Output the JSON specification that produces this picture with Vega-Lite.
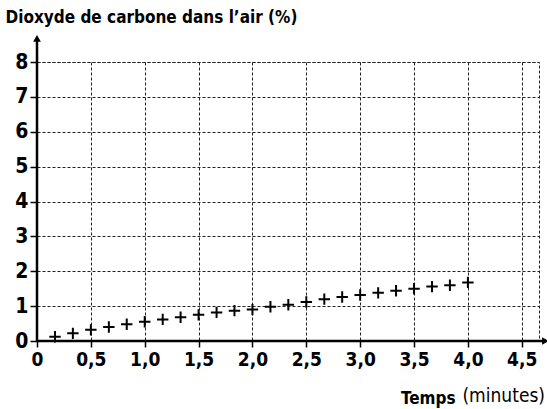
{
  "$schema": "https://vega.github.io/schema/vega-lite/v6.json",
  "autosize": "none",
  "width": 502,
  "height": 279,
  "padding": {"left": 37, "top": 62, "right": 8, "bottom": 68},
  "background": "white",
  "title": {
    "text": "(minutes)",
    "orient": "bottom", "anchor": "end", "frame": "group",
    "fontSize": 19, "fontWeight": "normal", "color": "black",
    "baseline": "alphabetic", "offset": 0, "dy": -4, "dx": 6,
    "font": "Liberation Sans Narrow, DejaVu Sans Condensed, sans-serif"
  },
  "config": {
    "font": "Liberation Sans Narrow, DejaVu Sans Condensed, sans-serif",
    "view": {"stroke": "#222", "strokeDash": [3, 2], "strokeWidth": 1}
  },
  "datasets": {
    "co2": [
      {"t": 0.167, "co2": 0.12},
      {"t": 0.333, "co2": 0.22},
      {"t": 0.5, "co2": 0.32},
      {"t": 0.667, "co2": 0.4},
      {"t": 0.833, "co2": 0.48},
      {"t": 1.0, "co2": 0.55},
      {"t": 1.167, "co2": 0.62},
      {"t": 1.333, "co2": 0.68},
      {"t": 1.5, "co2": 0.75},
      {"t": 1.667, "co2": 0.82},
      {"t": 1.833, "co2": 0.87},
      {"t": 2.0, "co2": 0.9},
      {"t": 2.167, "co2": 0.98},
      {"t": 2.333, "co2": 1.04},
      {"t": 2.5, "co2": 1.12},
      {"t": 2.667, "co2": 1.2},
      {"t": 2.833, "co2": 1.26},
      {"t": 3.0, "co2": 1.32},
      {"t": 3.167, "co2": 1.38},
      {"t": 3.333, "co2": 1.44},
      {"t": 3.5, "co2": 1.5},
      {"t": 3.667, "co2": 1.56},
      {"t": 3.833, "co2": 1.6},
      {"t": 4.0, "co2": 1.68}
    ],
    "axes": [
      {"x": 0, "y": 0, "x2": 4.72, "y2": 0, "shape": "triangle-right"},
      {"x": 0, "y": 0, "x2": 0, "y2": 8.68, "shape": "triangle-up"}
    ]
  },
  "layer": [
    {
      "data": {"name": "co2"},
      "mark": {"type": "point", "shape": "M-1,0H1M0,-1V1", "size": 130, "filled": false, "stroke": "black", "strokeWidth": 2, "opacity": 1},
      "encoding": {
        "x": {
          "field": "t", "type": "quantitative",
          "scale": {"domain": [0, 4.66], "nice": false, "zero": false},
          "axis": {
            "values": [0, 0.5, 1, 1.5, 2, 2.5, 3, 3.5, 4, 4.5],
            "labelExpr": "datum.value == 0 ? '0' : replace(format(datum.value, '.1f'), '.', ',')",
            "labelFontSize": 19, "labelFontWeight": "bold", "labelColor": "black", "labelPadding": 3,
            "labelFlush": false, "labelOverlap": false,
            "domain": false,
            "ticks": true, "tickSize": 6, "tickColor": "black", "tickWidth": 1.5,
            "grid": true, "gridColor": "#222", "gridDash": [3, 2], "gridWidth": 1,
            "title": "Temps",
            "titleFontSize": 17, "titleFontWeight": "bold", "titleColor": "black",
            "titleAlign": "right", "titleBaseline": "alphabetic", "titleAnchor": null,
            "titleX": 418, "titleY": 62
          }
        },
        "y": {
          "field": "co2", "type": "quantitative",
          "scale": {"domain": [0, 8], "nice": false},
          "axis": {
            "values": [0, 1, 2, 3, 4, 5, 6, 7, 8],
            "tickCount": 9,
            "labelFontSize": 21, "labelFontWeight": "bold", "labelColor": "black", "labelPadding": 2,
            "labelFlush": false, "labelOverlap": false,
            "domain": false,
            "ticks": true, "tickSize": 7, "tickColor": "black", "tickWidth": 1.5,
            "grid": true, "gridColor": "#222", "gridDash": [3, 2], "gridWidth": 1,
            "title": "Dioxyde de carbone dans l’air (%)",
            "titleFontSize": 17, "titleFontWeight": "bold", "titleColor": "black",
            "titleAngle": 0, "titleAlign": "left", "titleBaseline": "alphabetic", "titleAnchor": null,
            "titleX": -32, "titleY": -40
          }
        }
      }
    },
    {
      "data": {"name": "axes"},
      "mark": {"type": "rule", "color": "black", "strokeWidth": 2.5, "clip": false},
      "encoding": {
        "x": {"field": "x", "type": "quantitative"},
        "y": {"field": "y", "type": "quantitative"},
        "x2": {"field": "x2"},
        "y2": {"field": "y2"}
      }
    },
    {
      "data": {"name": "axes"},
      "mark": {"type": "point", "filled": true, "color": "black", "size": 60, "opacity": 1, "clip": false},
      "encoding": {
        "x": {"field": "x2", "type": "quantitative"},
        "y": {"field": "y2", "type": "quantitative"},
        "shape": {"field": "shape", "type": "nominal", "scale": null, "legend": null}
      }
    }
  ]
}
